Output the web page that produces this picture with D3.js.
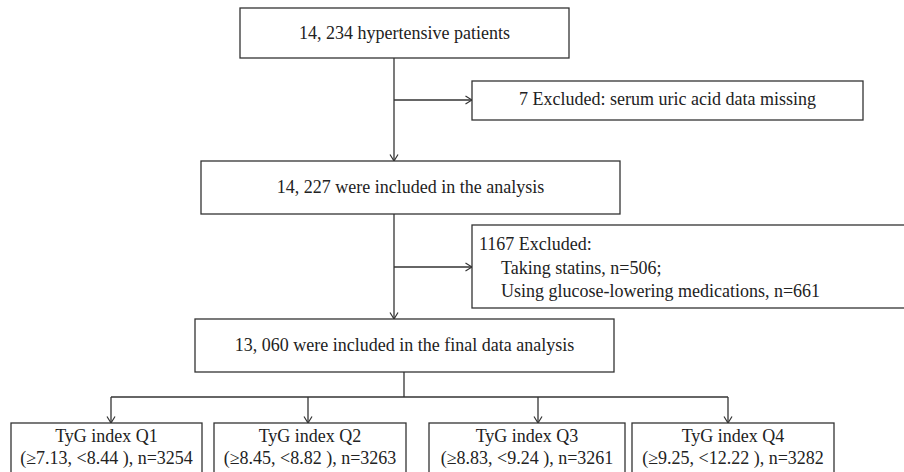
<!DOCTYPE html>
<html>
<head>
<meta charset="utf-8">
<script src="https://cdn.jsdelivr.net/npm/d3@7"></script>
<style>
  body { margin: 0; background: #fff; }
  svg { display: block; }
</style>
</head>
<body>
<svg id="flow"></svg>
<script>
// flow steps (text content)
let mainSteps = ["14, 234 hypertensive patients",
                 "14, 227 were included in the analysis",
                 "13, 060 were included in the final data analysis"];
let exclusionHeads = ["7 Excluded: serum uric acid data missing", "1167 Excluded:"];
let exclusionItems = [[], ["Taking statins, n=506;", "Using glucose-lowering medications, n=661"]];
let groupNames = ["TyG index Q1", "TyG index Q2", "TyG index Q3", "TyG index Q4"];
let groupRanges = ["(\u22657.13, <8.44 )", "(\u22658.45, <8.82 )", "(\u22658.83, <9.24 )", "(\u22659.25, <12.22 )"];
let groupCounts = [3254, 3263, 3261, 3282];

// layout (pixels)
let width = 904, height = 472;
let mainBoxes = [{x0: 240, x1: 569, y0: 8, y1: 58},
                 {x0: 201, x1: 620, y0: 161, y1: 214},
                 {x0: 195, x1: 614, y0: 319, y1: 372}];
let exBoxes = [{x0: 472, x1: 863, y0: 81, y1: 120, branch: 100},
               {x0: 472, x1: 910, y0: 225, y1: 308, branch: 267}];
let spineX = 394;
let groupBoxes = [{x0: 11, x1: 202, ax: 111},
                  {x0: 214, x1: 406, ax: 308},
                  {x0: 429, x1: 625, ax: 538},
                  {x0: 632, x1: 834, ax: 728}];
let splitX = 404, splitY = 397, groupTop = 423;

let ink = "#333";
let font = "'Liberation Serif', 'Times New Roman', serif";

let svg = d3.select("#flow")
    .attr("width", width)
    .attr("height", height);

let defs = svg.append("defs");
defs.append("marker")
    .attr("id", "arr")
    .attr("viewBox", "0 0 10 10")
    .attr("refX", 9.5).attr("refY", 5)
    .attr("markerWidth", 10).attr("markerHeight", 10)
    .attr("markerUnits", "userSpaceOnUse")
    .attr("orient", "auto")
    .append("path")
    .attr("d", "M3,1 L9.5,5 L3,9")
    .attr("fill", "none")
    .attr("stroke", ink)
    .attr("stroke-width", 1.2);

let lines = svg.append("g")
    .attr("stroke", ink)
    .attr("stroke-width", 1.3)
    .attr("fill", "none");
let boxes = svg.append("g");
let labels = svg.append("g")
    .style("font-family", font)
    .style("font-size", "18px")
    .attr("fill", "#222");

function box(b) {
    boxes.append("rect")
        .attr("x", b.x0).attr("y", b.y0)
        .attr("width", b.x1 - b.x0).attr("height", b.y1 - b.y0)
        .attr("fill", "#fff")
        .attr("stroke", ink)
        .attr("stroke-width", 1.3);
}

// main column
mainSteps.forEach((t, i) => {
    let b = mainBoxes[i];
    box(b);
    labels.append("text")
        .attr("x", (b.x0 + b.x1) / 2)
        .attr("y", (b.y0 + b.y1) / 2 + 5.5)
        .attr("text-anchor", "middle")
        .text(t);
});

// spine arrows between main boxes
for (let i = 0; i < mainBoxes.length - 1; i++) {
    lines.append("line")
        .attr("x1", spineX).attr("y1", mainBoxes[i].y1)
        .attr("x2", spineX).attr("y2", mainBoxes[i + 1].y0)
        .attr("marker-end", "url(#arr)");
}

// exclusions
exclusionHeads.forEach((t, i) => {
    let b = exBoxes[i];
    box(b);
    lines.append("line")
        .attr("x1", spineX).attr("y1", b.branch)
        .attr("x2", b.x0).attr("y2", b.branch)
        .attr("marker-end", "url(#arr)");
    if (exclusionItems[i].length === 0) {
        labels.append("text")
            .attr("x", (b.x0 + b.x1) / 2)
            .attr("y", (b.y0 + b.y1) / 2 + 4)
            .attr("text-anchor", "middle")
            .text(t);
    } else {
        labels.append("text")
            .attr("x", b.x0 + 7)
            .attr("y", b.y0 + 25)
            .text(t);
        exclusionItems[i].forEach((s, j) => {
            labels.append("text")
                .attr("x", b.x0 + 29)
                .attr("y", b.y0 + 49 + j * 23)
                .text(s);
        });
    }
});

// split into quartiles
let last = mainBoxes[mainBoxes.length - 1];
lines.append("line")
    .attr("x1", splitX).attr("y1", last.y1)
    .attr("x2", splitX).attr("y2", splitY);
lines.append("line")
    .attr("x1", d3.min(groupBoxes, d => d.ax)).attr("y1", splitY)
    .attr("x2", d3.max(groupBoxes, d => d.ax)).attr("y2", splitY);

groupNames.forEach((g, i) => {
    let b = groupBoxes[i];
    lines.append("line")
        .attr("x1", b.ax).attr("y1", splitY)
        .attr("x2", b.ax).attr("y2", groupTop)
        .attr("marker-end", "url(#arr)");
    box({x0: b.x0, x1: b.x1, y0: groupTop, y1: height + 10});
    let cx = (b.x0 + b.x1) / 2;
    labels.append("text")
        .attr("x", cx).attr("y", 442)
        .attr("text-anchor", "middle")
        .text(g);
    labels.append("text")
        .attr("x", cx).attr("y", 464)
        .attr("text-anchor", "middle")
        .text(groupRanges[i] + ", n=" + groupCounts[i]);
});
</script>
</body>
</html>
